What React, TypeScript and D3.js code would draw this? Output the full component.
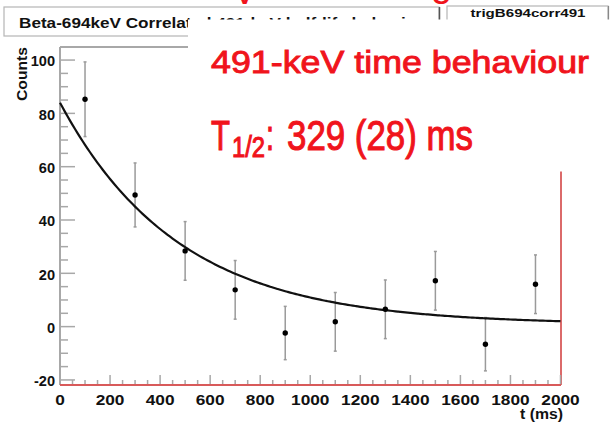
import React from "react";
import * as d3 from "d3";

// ---- data ----
const timeMs = [100, 300, 500, 700, 900, 1100, 1300, 1500, 1700, 1900];
const counts = [85.3, 49.4, 28.4, 13.8, -2.4, 1.8, 6.5, 17.2, -6.6, 15.9];
const countErrors = [14, 12, 11, 11, 10, 11, 11, 11, 10, 11];

const xTickLabels = [0, 200, 400, 600, 800, 1000, 1200, 1400, 1600, 1800, 2000];
const yTickLabels = [-20, 0, 20, 40, 60, 80, 100];

// exponential fit shown in the chart (T1/2 = 329 ms)
const fitAmplitude = 83.2;
const fitHalfLife = 329;
const fitOffset = 0.8;

const titleText = "Beta-694keV Correlated 491-keV half-life behavior";
const statsName = "trigB694corr491";
const noteLine1 = "491-keV time behaviour";

const W = 611;
const H = 423;

export default function App() {
  const x = d3.scaleLinear().domain([0, 2000]).range([60, 560.5]);
  const y = d3.scaleLinear().domain([-21.9, 104.9]).range([385, 47]);

  const xMinor = d3.range(0, 2001, 50).filter((v) => v % 200 !== 0);
  const yMinor = d3.range(-20, 105, 5).filter((v) => v % 20 !== 0);

  const fitPts = d3.range(0, 2001, 10).map((t) => [
    t,
    fitAmplitude * Math.exp((-Math.LN2 * t) / fitHalfLife) + fitOffset,
  ]);
  const line = d3
    .line<number[]>()
    .x((d) => x(d[0]))
    .y((d) => y(d[1]))
    .curve(d3.curveMonotoneX);

  const axisGray = "#a8a8a8";
  const frameRed = "#d85a5a";
  const red = "#f0141c";
  const rootFont = "'Liberation Sans', Arial, Helvetica, sans-serif";
  const narrowFont =
    "'Liberation Sans Narrow', 'Arial Narrow', 'Liberation Sans', Arial, sans-serif";

  const labelLen = (s: string, digitW: number) =>
    s.split("").reduce((a, c) => a + (c === "-" ? digitW * 0.6 : digitW), 0);

  return (
    <svg
      width={W}
      height={H}
      style={{ position: "absolute", left: 0, top: 0, background: "#fff" }}
    >
      <rect x={0} y={0} width={W} height={H} fill="#fff" />

      {/* title box */}
      <rect x={4} y={7} width={435} height={29} fill="#fff" stroke="#b5b5b5" strokeWidth={1.2} />
      <line x1={439.5} y1={7} x2={439.5} y2={36} stroke="#555" strokeWidth={1.5} />
      <text
        x={19}
        y={28.3}
        fontFamily={rootFont}
        fontWeight="bold"
        fontSize={15}
        textLength={404}
        lengthAdjust="spacingAndGlyphs"
        fill="#111"
      >
        {titleText}
      </text>

      {/* stats box */}
      <rect x={447} y={6} width={161} height={60} fill="#fff" stroke="#b5b5b5" strokeWidth={1.2} />
      <line x1={608.5} y1={6} x2={608.5} y2={66} stroke="#888" strokeWidth={1.2} />
      <text
        x={528}
        y={17.3}
        textAnchor="middle"
        fontFamily={rootFont}
        fontWeight="bold"
        fontSize={11.5}
        textLength={115}
        lengthAdjust="spacingAndGlyphs"
        fill="#111"
      >
        {statsName}
      </text>

      {/* frame */}
      <line x1={60} y1={47} x2={560.5} y2={47} stroke={axisGray} strokeWidth={2} />
      <line x1={60} y1={47} x2={60} y2={385} stroke={axisGray} strokeWidth={2} />
      <line x1={561} y1={47} x2={561} y2={385} stroke={frameRed} strokeWidth={1.8} />

      {/* y ticks */}
      {yTickLabels.map((v) => (
        <g key={"yt" + v}>
          <line x1={60} x2={75} y1={y(v)} y2={y(v)} stroke={axisGray} strokeWidth={1.5} />
          <text
            x={55}
            y={y(v) + 6.2}
            textAnchor="end"
            fontFamily={rootFont}
            fontWeight="bold"
            fontSize={15}
            textLength={labelLen(String(v), 8.1)}
            lengthAdjust="spacingAndGlyphs"
            fill="#111"
          >
            {v}
          </text>
        </g>
      ))}
      {yMinor.map((v) => (
        <line key={"ym" + v} x1={60} x2={68} y1={y(v)} y2={y(v)} stroke={axisGray} strokeWidth={1.5} />
      ))}

      {/* x ticks */}
      {xTickLabels.map((v) => (
        <g key={"xt" + v}>
          <line x1={x(v)} x2={x(v)} y1={385} y2={375} stroke={axisGray} strokeWidth={1.5} />
          <text
            x={x(v)}
            y={404.5}
            textAnchor="middle"
            fontFamily={rootFont}
            fontWeight="bold"
            fontSize={15}
            textLength={labelLen(String(v), 9.6)}
            lengthAdjust="spacingAndGlyphs"
            fill="#111"
          >
            {v}
          </text>
        </g>
      ))}
      {xMinor.map((v) => (
        <line key={"xm" + v} x1={x(v)} x2={x(v)} y1={385} y2={380} stroke={axisGray} strokeWidth={1.5} />
      ))}
      <line x1={60} y1={385} x2={561} y2={385} stroke={frameRed} strokeWidth={2} />

      {/* axis titles */}
      <text
        x={563}
        y={419}
        textAnchor="end"
        fontFamily={rootFont}
        fontWeight="bold"
        fontSize={15}
        textLength={43}
        lengthAdjust="spacingAndGlyphs"
        fill="#111"
      >
        t (ms)
      </text>
      <text
        transform="translate(27,47) rotate(-90)"
        textAnchor="end"
        fontFamily={rootFont}
        fontWeight="bold"
        fontSize={14.5}
        textLength={54}
        lengthAdjust="spacingAndGlyphs"
        fill="#111"
      >
        Counts
      </text>

      {/* error bars */}
      {timeMs.map((t, i) => {
        const cx = x(t);
        const y1 = y(counts[i] + countErrors[i]);
        const y2 = y(counts[i] - countErrors[i]);
        return (
          <g key={"eb" + t} stroke="#9a9a9a" strokeWidth={1.5}>
            <line x1={cx} x2={cx} y1={y1} y2={y2} />
            <line x1={cx - 1.5} x2={cx + 1.5} y1={y1} y2={y1} />
            <line x1={cx - 1.5} x2={cx + 1.5} y1={y2} y2={y2} />
          </g>
        );
      })}

      {/* fit curve */}
      <path d={line(fitPts) || ""} fill="none" stroke="#111" strokeWidth={2.2} />

      {/* points */}
      {timeMs.map((t, i) => (
        <circle key={"pt" + t} cx={x(t)} cy={y(counts[i])} r={2.7} fill="#000" />
      ))}

      {/* white overlay with red annotation */}
      <rect x={188} y={19.5} width={W - 188} height={152} fill="#fff" />

      {/* cropped red letters at the very top */}
      <text x={232} y={3.5} fontFamily={narrowFont} fontSize={38} fill={red}>
        V
      </text>
      <text x={431} y={-4} fontFamily={narrowFont} fontSize={38} fill={red}>
        g
      </text>

      <text
        x={211}
        y={73.3}
        fontFamily={narrowFont}
        fontSize={31}
        textLength={378}
        lengthAdjust="spacingAndGlyphs"
        fill={red}
        stroke={red}
        strokeWidth={0.9}
      >
        {noteLine1}
      </text>
      <text fontFamily={narrowFont} fill={red} stroke={red} strokeWidth={1.1}>
        <tspan
          x={211}
          y={149.5}
          fontSize={43}
          textLength={19}
          lengthAdjust="spacingAndGlyphs"
        >
          T
        </tspan>
        <tspan
          x={232}
          y={157}
          fontSize={29}
          textLength={33}
          lengthAdjust="spacingAndGlyphs"
        >
          1/2
        </tspan>
        <tspan
          x={266}
          y={149.5}
          fontSize={43}
          textLength={8}
          lengthAdjust="spacingAndGlyphs"
        >
          :
        </tspan>
        <tspan
          x={287}
          y={149.5}
          fontSize={43}
          textLength={186}
          lengthAdjust="spacingAndGlyphs"
        >
          329 (28) ms
        </tspan>
      </text>
    </svg>
  );
}
